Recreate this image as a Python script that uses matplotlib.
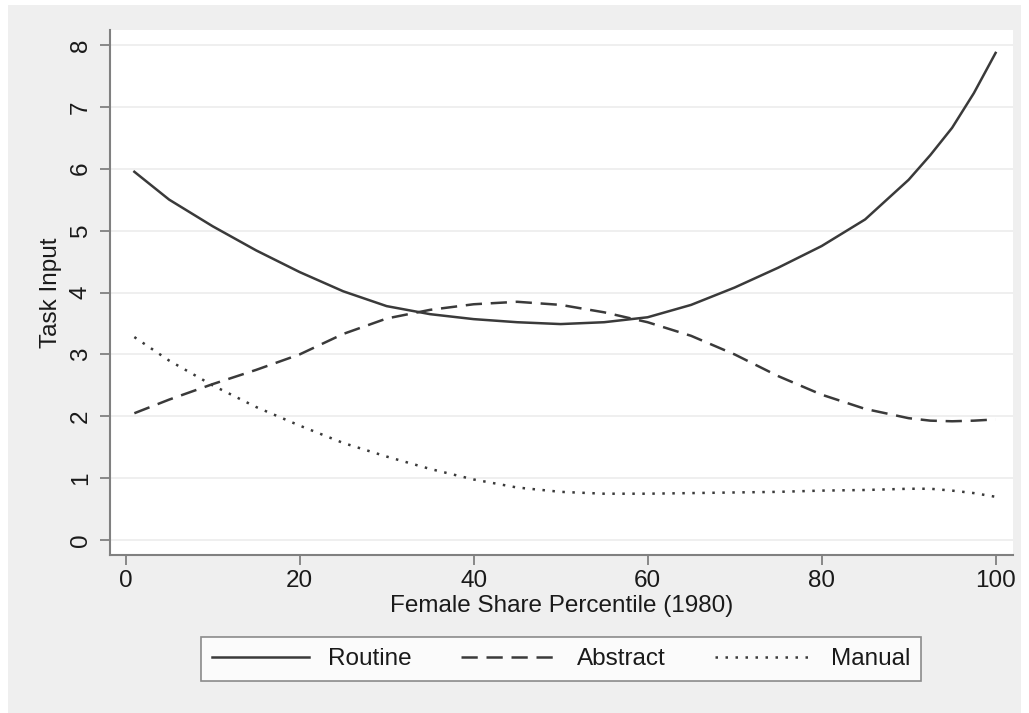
import matplotlib
matplotlib.use("Agg")
import matplotlib.pyplot as plt
from matplotlib.patches import Rectangle

plt.rcParams["font.family"] = ["Liberation Sans", "DejaVu Sans"]

# values
pct = [1, 5, 10, 15, 20, 25, 30, 35, 40, 45, 50, 55, 60, 65, 70, 75, 80, 85, 90, 92.5, 95, 97.5, 100]
routine = [5.95, 5.50, 5.07, 4.68, 4.33, 4.02, 3.78, 3.65, 3.57, 3.52, 3.49,
           3.52, 3.60, 3.80, 4.08, 4.40, 4.75, 5.18, 5.82, 6.22, 6.66, 7.22, 7.87]
abstract = [2.05, 2.27, 2.52, 2.75, 3.00, 3.33, 3.58, 3.72, 3.81, 3.85, 3.80,
            3.68, 3.52, 3.30, 3.00, 2.65, 2.35, 2.12, 1.97, 1.93, 1.92, 1.93, 1.95]
manual = [3.28, 2.90, 2.50, 2.15, 1.85, 1.57, 1.35, 1.15, 0.98, 0.85, 0.78,
          0.75, 0.75, 0.76, 0.77, 0.78, 0.80, 0.81, 0.83, 0.83, 0.80, 0.76, 0.70]
xticks = [0, 20, 40, 60, 80, 100]
yticks = [0, 1, 2, 3, 4, 5, 6, 7, 8]

W, H = 1029, 713
fig = plt.figure(figsize=(W / 100, H / 100), dpi=100, facecolor="white")
fig.patches.append(Rectangle((8 / W, 0), 1013 / W, 708 / H, transform=fig.transFigure,
                             facecolor="#efefef", edgecolor="none", zorder=-10))

ax = fig.add_axes([110 / W, 1 - 555 / H, 903 / W, 525 / H])
ax.set_facecolor("white")

lc = "#3a3a3a"
fs = 17.5
ax.plot(pct, routine, color=lc, lw=1.8, ls="-", label="Routine")
ax.plot(pct, abstract, color=lc, lw=1.8, ls=(0, (6.5, 3.5)), label="Abstract")
ax.plot(pct, manual, color=lc, lw=1.8, ls=(0, (1, 3)), label="Manual")

ax.set_xlim(-1.8, 102)
ax.set_ylim(-0.24, 8.24)
ax.set_xticks(xticks)
ax.set_yticks(yticks)
ax.grid(axis="y", color="#ececec", lw=1.2)
ax.set_axisbelow(True)

for s in ["top", "right"]:
    ax.spines[s].set_visible(False)
for s in ["left", "bottom"]:
    ax.spines[s].set_color("#808080")
    ax.spines[s].set_linewidth(1.5)

ax.tick_params(axis="both", direction="out", length=7, width=1.3, color="#808080",
               labelsize=fs, labelcolor="#1a1a1a")
ax.tick_params(axis="x", pad=4)
ax.tick_params(axis="y", pad=6)
for lab in ax.get_yticklabels():
    lab.set_rotation(90)
    lab.set_va("center")

ax.set_xlabel("Female Share Percentile (1980)", fontsize=fs, color="#1a1a1a", labelpad=2)
ax.set_ylabel("Task Input", fontsize=fs, color="#1a1a1a", labelpad=6)

leg = fig.legend(loc="center", bbox_to_anchor=(561 / W, 1 - 659 / H), ncol=3,
                 fontsize=fs, frameon=True, fancybox=False, handlelength=4.0,
                 handletextpad=0.75, columnspacing=2.05, borderpad=0.45)
leg.get_frame().set_edgecolor("#707070")
leg.get_frame().set_linewidth(1.2)
leg.get_frame().set_facecolor("white")
for t in leg.get_texts():
    t.set_color("#1a1a1a")

fig.savefig("out.png", dpi=100, facecolor="white")
